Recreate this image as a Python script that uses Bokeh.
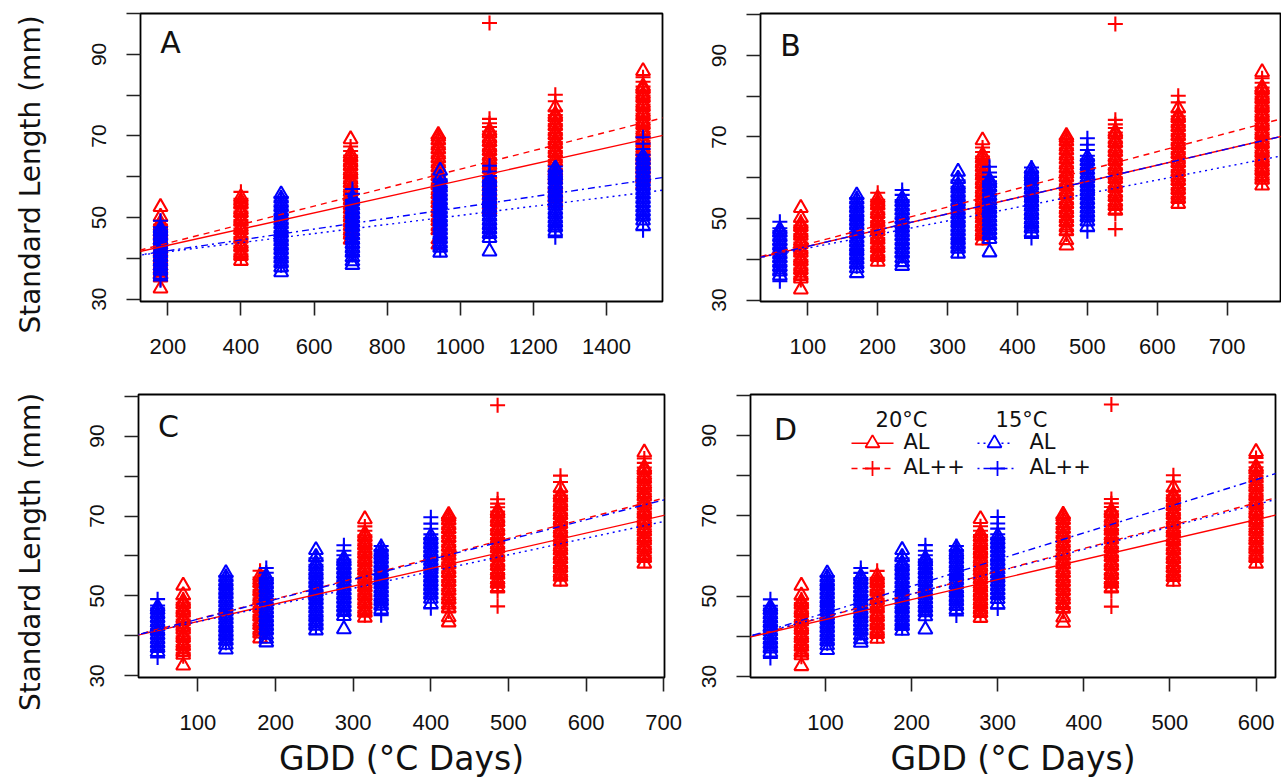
import math
from bokeh.plotting import figure
from bokeh.layouts import row, column
from bokeh.models import Range1d, FixedTicker, Slope, Label, ColumnDataSource
from bokeh.embed import file_html
from bokeh.resources import INLINE
from bokeh.core.properties import value

# ---------------- data ----------------
panel_names = ["A", "B", "C", "D"]
base_temp = [0, 10, 11, 12]          # base temperature used for GDD in each panel
days_20 = [9, 20, 35, 47, 54, 63, 75]
days_15 = [12, 34, 47, 63, 72, 84, 100]

red_AL = [
    [32.6, 35.3, 36.1, 37.4, 38.2, 39.5, 40.3, 41.6, 42.4, 43.7, 44.5, 45.8, 46.6, 47.9, 48.7, 50.2, 52.6],
    [39.4, 40.6, 41.4, 42.7, 43.5, 44.8, 45.6, 46.9, 47.7, 49.0, 49.8, 51.1, 51.9, 53.2, 54.0, 55.0],
    [44.6, 45.8, 46.7, 47.9, 48.8, 50.0, 50.9, 52.1, 53.0, 54.2, 55.1, 56.3, 57.2, 58.4, 59.3, 60.5, 61.4, 62.6, 63.5, 64.7, 65.6, 69.2],
    [43.4, 44.7, 46.9, 47.8, 49.1, 50.0, 51.3, 52.2, 53.5, 54.4, 55.7, 56.6, 57.9, 58.8, 60.1, 61.0, 62.3, 63.2, 64.5, 65.4, 66.7, 67.6, 68.9, 69.8, 70.3],
    [51.9, 53.1, 54.0, 55.3, 56.2, 57.5, 58.4, 59.7, 60.6, 61.9, 62.8, 64.1, 65.0, 66.3, 67.2, 68.5, 69.4, 70.6, 71.3],
    [53.6, 54.8, 55.7, 57.0, 57.9, 59.2, 60.1, 61.4, 62.3, 63.6, 64.5, 65.8, 66.7, 68.0, 68.9, 70.2, 71.1, 72.4, 73.3, 74.6, 75.3, 77.0],
    [58.1, 59.5, 60.4, 61.7, 62.6, 63.9, 64.8, 66.1, 67.0, 68.3, 69.2, 70.5, 71.4, 72.7, 73.6, 74.9, 75.8, 77.1, 78.0, 79.3, 80.2, 81.5, 82.2, 85.9],
]
red_ALpp = [
    [34.9, 35.7, 36.8, 37.8, 39.0, 39.9, 41.1, 42.0, 43.2, 44.1, 45.3, 46.2, 47.4, 48.3, 49.2],
    [40.1, 41.0, 42.1, 43.1, 44.2, 45.2, 46.3, 47.3, 48.4, 49.4, 50.5, 51.5, 52.6, 53.6, 54.6, 56.3],
    [45.2, 46.3, 47.3, 48.4, 49.4, 50.5, 51.5, 52.6, 53.6, 54.7, 55.7, 56.8, 57.8, 58.9, 59.9, 61.0, 62.0, 63.1, 64.1, 65.2, 66.3, 67.4],
    [46.1, 47.3, 48.4, 49.6, 50.6, 51.8, 52.8, 54.0, 55.0, 56.2, 57.2, 58.4, 59.4, 60.6, 61.6, 62.8, 63.8, 65.0, 66.0, 67.2, 68.2, 69.5],
    [47.4, 51.2, 52.5, 53.5, 54.7, 55.7, 56.9, 57.9, 59.1, 60.1, 61.3, 62.3, 63.5, 64.5, 65.7, 66.7, 67.9, 68.9, 70.1, 71.1, 72.2, 73.1, 74.2, 97.7],
    [54.2, 55.3, 56.4, 57.5, 58.6, 59.7, 60.8, 61.9, 63.0, 64.1, 65.2, 66.3, 67.4, 68.5, 69.6, 70.7, 71.8, 72.9, 74.0, 75.1, 76.2, 78.5, 80.1],
    [59.0, 60.1, 61.2, 62.3, 63.4, 64.5, 65.6, 66.7, 67.8, 68.9, 70.0, 71.1, 72.2, 73.3, 74.4, 75.5, 76.6, 77.7, 78.8, 79.9, 81.0, 82.1, 83.3, 84.4],
]
blue_AL = [
    [36.0, 37.0, 38.1, 39.1, 40.2, 41.2, 42.3, 43.3, 44.4, 45.4, 46.5, 47.3],
    [36.6, 37.8, 38.8, 39.9, 40.9, 42.0, 43.0, 44.1, 45.1, 46.2, 47.2, 48.3, 49.3, 50.4, 51.4, 52.5, 53.5, 54.6, 55.7],
    [38.4, 39.3, 40.3, 41.4, 42.4, 43.5, 44.5, 45.6, 46.6, 47.7, 48.7, 49.8, 50.8, 51.9, 52.9, 54.0, 54.9],
    [41.4, 42.6, 43.6, 44.7, 45.7, 46.8, 47.8, 48.9, 49.9, 51.0, 52.0, 53.1, 54.1, 55.2, 56.2, 57.3, 58.2, 59.8, 61.5],
    [41.7, 45.0, 46.0, 47.1, 48.1, 49.2, 50.2, 51.3, 52.3, 53.4, 54.4, 55.5, 56.5, 57.6, 58.6, 59.4],
    [46.6, 47.6, 48.7, 49.7, 50.8, 51.8, 52.9, 53.9, 55.0, 56.0, 57.1, 58.1, 59.2, 60.2, 61.0, 62.1],
    [48.0, 49.3, 50.3, 51.4, 52.4, 53.5, 54.5, 55.6, 56.6, 57.7, 58.7, 59.8, 60.8, 61.9, 62.9, 64.0, 65.0],
]
blue_ALpp = [
    [34.6, 36.5, 37.5, 38.6, 39.6, 40.7, 41.7, 42.8, 43.8, 44.9, 45.9, 46.9, 47.6, 49.2],
    [38.3, 39.4, 40.4, 41.5, 42.5, 43.6, 44.6, 45.7, 46.7, 47.8, 48.8, 49.9, 50.9, 52.0, 53.0, 54.1, 55.0],
    [40.8, 41.9, 42.9, 44.0, 45.0, 46.1, 47.1, 48.2, 49.2, 50.3, 51.3, 52.4, 53.4, 54.5, 55.8, 57.0],
    [42.1, 43.1, 44.2, 45.2, 46.3, 47.3, 48.4, 49.4, 50.5, 51.5, 52.6, 53.6, 54.7, 55.7, 56.8, 57.8, 58.7, 59.4],
    [45.4, 46.5, 47.6, 48.6, 49.7, 50.7, 51.8, 52.8, 53.9, 54.9, 56.0, 57.0, 58.1, 59.1, 60.2, 61.3, 62.7],
    [45.2, 47.1, 48.2, 49.2, 50.3, 51.3, 52.4, 53.4, 54.5, 55.5, 56.6, 57.6, 58.7, 59.7, 60.6, 61.5, 62.5],
    [46.9, 49.8, 50.8, 51.9, 52.9, 54.0, 55.0, 56.1, 57.1, 58.2, 59.2, 60.3, 61.3, 62.4, 63.4, 64.5, 65.4, 66.8, 68.1, 69.7],
]

# fitted lines: length = intercept + slope * days
fit_intercept = {"red_AL": 39.2, "red_ALpp": 39.2, "blue_AL": 39.4, "blue_ALpp": 39.2}
fit_slope_per_day = {"red_AL": 0.398, "red_ALpp": 0.4534, "blue_AL": 0.167, "blue_ALpp": 0.199}

x_ticks = {"A": [200, 400, 600, 800, 1000, 1200, 1400],
           "B": [100, 200, 300, 400, 500, 600, 700],
           "C": [100, 200, 300, 400, 500, 600, 700],
           "D": [100, 200, 300, 400, 500, 600]}
y_major = [30, 50, 70, 90]
y_minor = [40, 60, 80, 100]

y_title = "Standard Length (mm)"
x_title = "GDD (°C Days)"

# ---------------- layout (pixels) ----------------
STRIP = 52
geom = {
    "A": dict(w=648, h=390, l=88, r=38, t=13, b=84, x=(125.3, 1553.2), y=(29.42, 100.02), letter=(30, 29.5)),
    "B": dict(w=581, h=390, l=60, r=1, t=10, b=89, x=(32.3, 776.3), y=(29.64, 100.29), letter=(30, 32.5)),
    "C": dict(w=638, h=390, l=86, r=26, t=1, b=101, x=(23.4, 701.0), y=(29.6, 100.4), letter=(30, 32.5)),
    "D": dict(w=591, h=390, l=60, r=6, t=4, b=103, x=(12.9, 622.6), y=(29.75, 100.2), letter=(35, 35.0)),
}
origin = {"A": (STRIP, 0), "B": (STRIP + 648, 0), "C": (STRIP, 390), "D": (STRIP + 638, 390)}

RED = "#FF0000"
BLUE = "#0000FF"
series = [
    ("red_AL", RED, "triangle", red_AL, days_20, 20, "solid"),
    ("red_ALpp", RED, "cross", red_ALpp, days_20, 20, "6 5"),
    ("blue_AL", BLUE, "triangle", blue_AL, days_15, 15, "2 4"),
    ("blue_ALpp", BLUE, "cross", blue_ALpp, days_15, 15, "2 4 7 4"),
]


def make_panel(k, name):
    g = geom[name]
    base = base_temp[k]
    p = figure(width=g["w"], height=g["h"], x_range=Range1d(*g["x"]), y_range=Range1d(*g["y"]),
               output_backend="svg", toolbar_location=None, tools="",
               min_border_left=g["l"], min_border_right=g["r"], min_border_top=g["t"], min_border_bottom=g["b"])
    p.background_fill_color = "white"
    p.border_fill_color = "white"
    p.outline_line_color = "black"
    p.outline_line_width = 1.8
    p.xgrid.visible = False
    p.ygrid.visible = False

    fw = g["w"] - g["l"] - g["r"]
    fh = g["h"] - g["t"] - g["b"]
    x0, x1 = g["x"]
    y0, y1 = g["y"]

    def px(rx, ry):  # pixel offset from frame top-left -> data coords
        return x0 + rx * (x1 - x0) / fw, y1 - ry * (y1 - y0) / fh

    def absp(ax, ay):  # absolute page pixel -> data coords
        ox, oy = origin[name]
        return px(ax - ox - g["l"], ay - oy - g["t"])

    for key, col, marker, vals, days, T, dash in series:
        xs, ys = [], []
        for d, grp in zip(days, vals):
            gdd = d * (T - base)
            for v in grp:
                xs.append(gdd)
                ys.append(v)
        src = ColumnDataSource(dict(x=xs, y=ys))
        if marker == "triangle":
            p.scatter("x", "y", source=src, marker="triangle", size=14, fill_color=None,
                      line_color=col, line_width=2.1)
        else:
            p.scatter("x", "y", source=src, marker="cross", size=15,
                      line_color=col, line_width=2.1)

    for key, col, marker, vals, days, T, dash in series:
        p.add_layout(Slope(gradient=fit_slope_per_day[key] / (T - base), y_intercept=fit_intercept[key],
                           line_color=col, line_width=1.4, line_dash=dash))

    # axes
    p.xaxis.ticker = FixedTicker(ticks=x_ticks[name])
    p.yaxis.ticker = FixedTicker(ticks=y_major, minor_ticks=y_minor)
    for ax in (p.xaxis[0], p.yaxis[0]):
        ax.axis_line_color = None
        ax.major_tick_out = 14
        ax.major_tick_in = 0
        ax.major_tick_line_color = "#222222"
        ax.major_tick_line_width = 1.6
    p.xaxis.minor_tick_line_color = None
    p.yaxis.minor_tick_out = 14
    p.yaxis.minor_tick_in = 0
    p.yaxis.minor_tick_line_color = "#222222"
    p.yaxis.minor_tick_line_width = 1.6

    p.xaxis.major_label_text_font = "Liberation Sans"
    p.xaxis.major_label_text_font_size = "22px"
    p.xaxis.major_label_text_color = "#111111"
    p.xaxis.major_label_standoff = 23
    p.yaxis.major_label_text_font = "Liberation Sans"
    p.yaxis.major_label_text_font_size = "21px"
    p.yaxis.major_label_text_color = "#111111"
    p.yaxis.major_label_orientation = "vertical"
    p.yaxis.major_label_standoff = 20

    if name in ("C", "D"):
        p.xaxis.axis_label = x_title
        p.xaxis.axis_label_text_font = "DejaVu Sans"
        p.xaxis.axis_label_text_font_size = "33px"
        p.xaxis.axis_label_text_font_style = "normal"
        p.xaxis.axis_label_text_color = "#111111"
        p.xaxis.axis_label_standoff = 6

    lx, ly = px(*g["letter"])
    p.add_layout(Label(x=lx, y=ly, text=name, text_font="DejaVu Sans", text_font_size="30px",
                       text_baseline="middle", text_align="center", text_color="#111111"))

    if name == "D":
        f = value("DejaVu Sans")
        for txt, cx in (("20°C", 901), ("15°C", 1021)):
            hx, hy = absp(cx, 419.5)
            p.text([hx], [hy], text=[txt], text_font=f, text_font_size="21px",
                   text_align="center", text_baseline="middle", text_color="#111111")
        rows_y = [442.7, 468.0]
        keys = [("red_AL", 851, 893, 872, 903, "AL", 0), ("red_ALpp", 851, 893, 872, 903, "AL++", 1),
                ("blue_AL", 977, 1013, 994, 1029, "AL", 0), ("blue_ALpp", 977, 1013, 997, 1029, "AL++", 1)]
        sty = {s[0]: s for s in series}
        for key, a, b, m, tx, lab, ri in keys:
            _, col, marker, _, _, _, dash = sty[key]
            ax_, ay_ = absp(a, rows_y[ri])
            bx_, _ = absp(b, rows_y[ri])
            p.line([ax_, bx_], [ay_, ay_], line_color=col, line_width=1.4, line_dash=dash)
            mx, _ = absp(m, rows_y[ri])
            if marker == "triangle":
                p.scatter([mx], [ay_], marker="triangle", size=14, fill_color="white",
                          line_color=col, line_width=1.8)
            else:
                p.scatter([mx], [ay_], marker="cross", size=15, line_color=col, line_width=1.8)
            ttx, tty = absp(tx, rows_y[ri] - 1.5)
            p.text([ttx], [tty], text=[lab], text_font=f, text_font_size="21px",
                   text_align="left", text_baseline="middle", text_color="#111111")
    return p


# narrow strip on the left that carries the two y-axis titles (rows A and C)
strip = figure(width=STRIP, height=780, x_range=Range1d(0, STRIP), y_range=Range1d(780, 0),
               output_backend="svg", toolbar_location=None, tools="",
               x_axis_location=None, y_axis_location=None,
               min_border_left=0, min_border_right=0, min_border_top=0, min_border_bottom=0)
strip.outline_line_color = None
strip.xgrid.visible = False
strip.ygrid.visible = False
strip.background_fill_color = "white"
strip.border_fill_color = "white"
strip.text([30, 30], [174, 551.5], text=[y_title, y_title], angle=math.pi / 2,
           text_font=value("DejaVu Sans"), text_font_size="28px",
           text_align="center", text_baseline="middle", text_color="#111111")

panels = [make_panel(k, n) for k, n in enumerate(panel_names)]
layout = row(strip, column(row(panels[0], panels[1]), row(panels[2], panels[3])))

open("out.html", "w").write(file_html(layout, INLINE, title="Standard length vs GDD"))
